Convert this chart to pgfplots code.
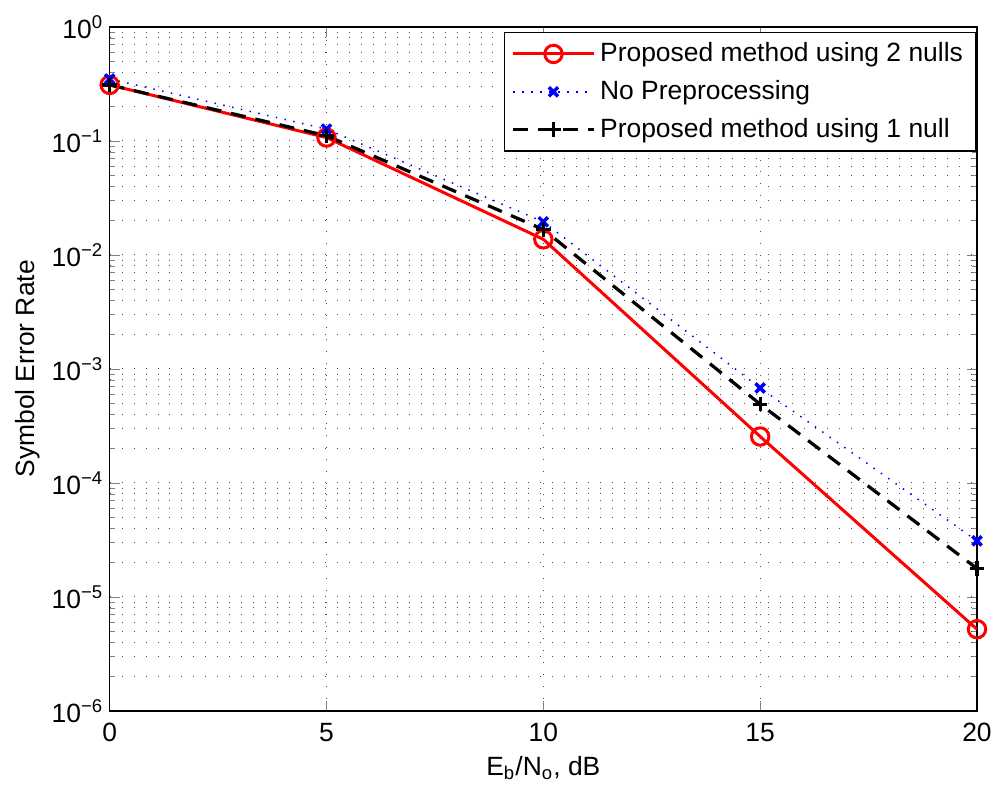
\documentclass[border=0pt]{standalone}
\usepackage{fontspec}
\setmainfont{Liberation Sans}
\usepackage{pgfplots}
\pgfplotsset{compat=1.18}

\begin{document}
\begin{tikzpicture}
\begin{semilogyaxis}[
    name=ax,
    scale only axis,
    width=348pt, height=274.4pt,
    xmin=0, xmax=20, ymin=1e-6, ymax=1,
    xtick={0,5,10,15,20},
    ytick={1e-6,1e-5,1e-4,1e-3,1e-2,1e-1,1},
    yticklabels={10\textsuperscript{−6},10\textsuperscript{−5},10\textsuperscript{−4},10\textsuperscript{−3},10\textsuperscript{−2},10\textsuperscript{−1},10\textsuperscript{0}},
    /pgf/number format/assume math mode=true,
    xticklabel={\pgfmathprintnumber{\tick}},
    tick label style={font=\fontsize{10.6}{12.7}\selectfont},
    xticklabel style={yshift=-1.5pt},
    yticklabel style={xshift=1pt},
    label style={font=\fontsize{10.6}{12.7}\selectfont},
    xlabel={E\textsubscript{b}/N\textsubscript{o}, dB},
    ylabel={Symbol Error Rate},
    xlabel style={yshift=1pt},
    ylabel style={yshift=-2pt},
    tick align=inside,
    major tick length=4pt, minor tick length=2pt,
    grid=both,
    major grid style={black!70, line width=0.4pt, dash pattern=on 0.4pt off 4.4pt},
    minor grid style={black!70, line width=0.4pt, dash pattern=on 0.4pt off 4.4pt},
    minor x tick num=0,
    axis line style={line width=0.6pt},
    legend style={at={(1,1)}, anchor=north east, xshift=-0.4pt, yshift=-2pt,
        draw=black, line width=0.5pt, font=\fontsize{10.6}{12.7}\selectfont,
        inner xsep=3pt, inner ysep=2pt, row sep=2pt, cells={anchor=west}},
    legend image code/.code={
        \draw[mark repeat=2,mark phase=2] plot coordinates {(0cm,0cm) (0.565cm,0cm) (1.13cm,0cm)};
    },
]
\addplot[red, line width=1.2pt, mark=o, mark size=3.5pt, mark options={solid, line width=1.2pt}]
    coordinates {(0,0.31) (5,0.107) (10,0.0137) (15,2.55e-4) (20,5.2e-6)};
\addlegendentry{Proposed method using 2 nulls}
\addplot[blue, line width=0.6pt, dash pattern=on 0.6pt off 3pt, mark=x, mark size=2.6pt, mark options={solid, line width=1.4pt}]
    coordinates {(0,0.35) (5,0.127) (10,0.0195) (15,6.8e-4) (20,3.1e-5)};
\addlegendentry{No Preprocessing}
\addplot[black, line width=1.3pt, dash pattern=on 6pt off 4pt, mark=+, mark size=2.9pt, mark options={solid, line width=1.3pt}]
    coordinates {(0,0.31) (5,0.111) (10,0.0167) (15,4.9e-4) (20,1.77e-5)};
\addlegendentry{Proposed method using 1 null}
\end{semilogyaxis}
\path[use as bounding box] ([shift={(-44pt,-33.2pt)}]ax.south west) rectangle ([shift={(8pt,10.8pt)}]ax.north east);
\end{tikzpicture}
\end{document}
